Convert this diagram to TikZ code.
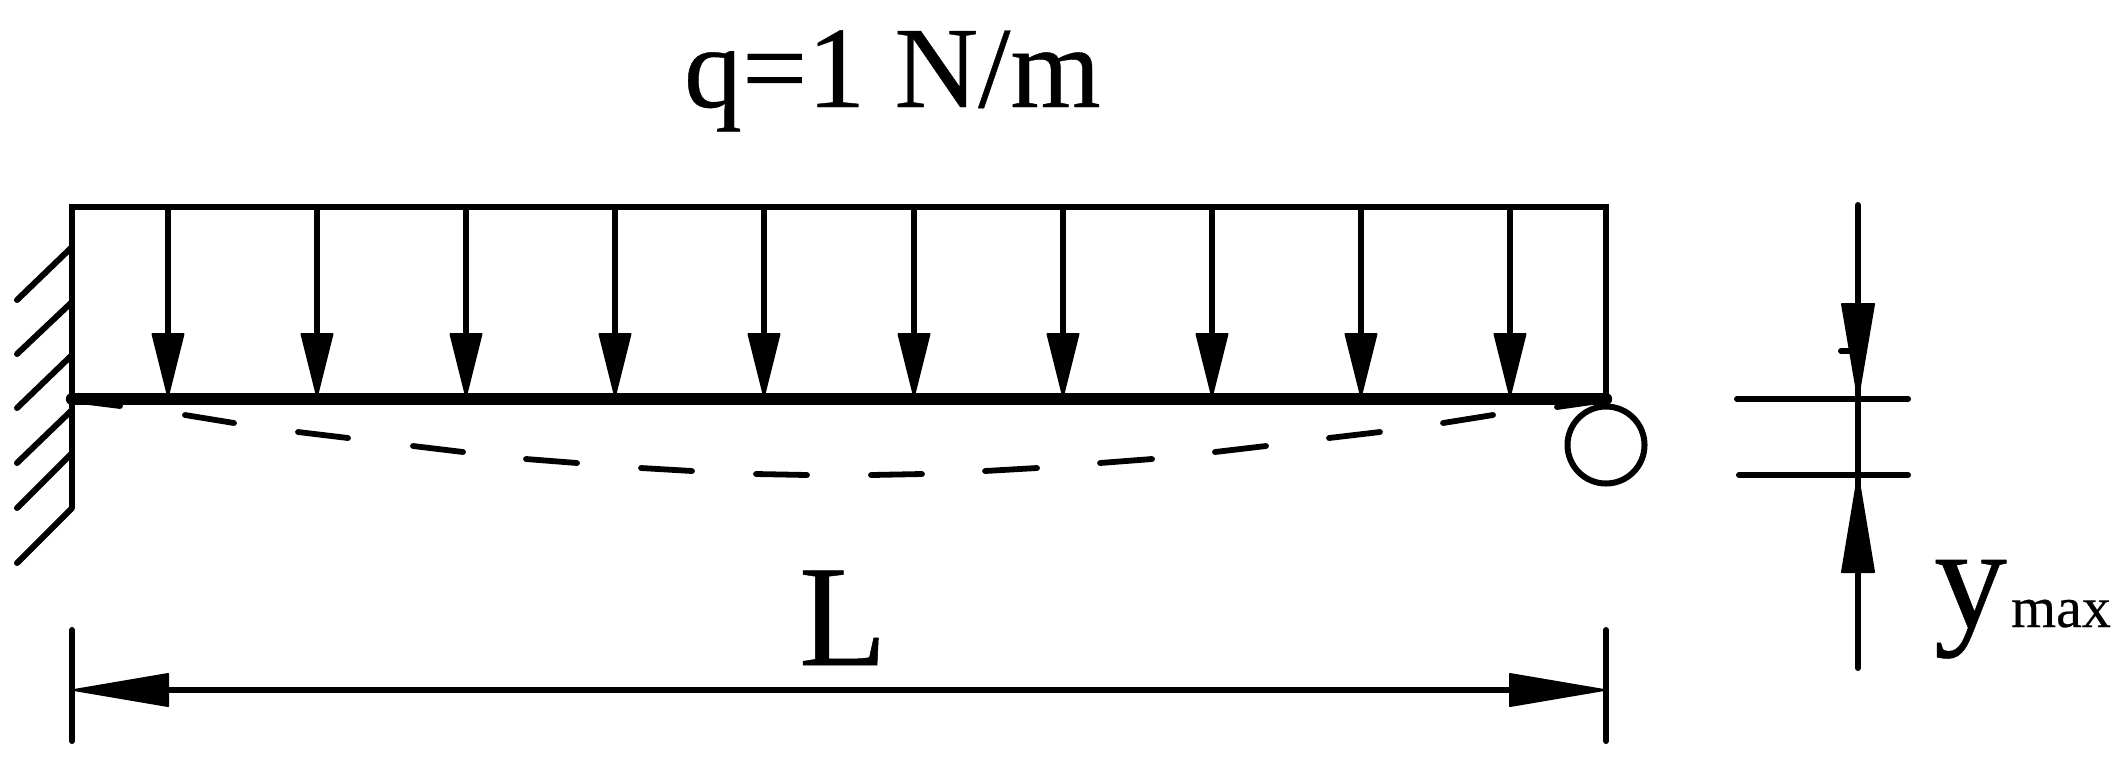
\documentclass[tikz,border=0pt]{standalone}
\usepackage{fontspec}
\setmainfont[FakeBold=0.35]{Liberation Serif}
\tikzset{
  thinline/.style={line width=3pt,line cap=round,black},
  beam/.style={line width=6.2pt,line cap=round,black},
  dashpiece/.style={line width=2.9pt,line cap=round,black},
  headfill/.style={fill=black,draw=black,line width=1pt,line join=round},
  label/.style={inner sep=0pt,outer sep=0pt,text=black}
}
\begin{document}
\begin{tikzpicture}[x=0.5pt,y=-0.5pt]
\useasboundingbox (0,0) rectangle (2123,757);
% load frame
\draw[thinline,line join=miter,line cap=butt] (72,508) -- (72,207) -- (1606,207) -- (1606,399);
% hatching of the wall
\foreach \ya/\yb in {247/300,302/354,355/408,410/463,453/508,508/563}
  \draw[thinline] (72,\ya) -- (17,\yb);
% load arrows
\foreach \x in {168,317,466,615,764,914,1063,1212,1361,1510}{
  \draw[thinline,line cap=butt] (\x,207) -- (\x,340);
  \filldraw[headfill] (\x-15.5,334) -- (\x+15.5,334) -- (\x,396) -- cycle;
}
% beam
\draw[beam] (72,399) -- (1606,399);
% deflection curve
\foreach \a/\b/\c/\d in {72/400/120/406,185/415/234/423,298/432/348/438,413/446/463/452,526/459/577/463,641/468/692/471,756/474/807/475,871/475/922/474,985/471/1037/468,1100/463/1152/459,1215/452/1266/446,1329/438/1380/432,1443/423/1493/415,1557/407/1606/400}
  \draw[dashpiece] (\a,\b) -- (\c,\d);
% roller
\node[draw=black,line width=3pt,circle,minimum size=38.5pt,inner sep=0pt,outer sep=0pt,fill=none] (roller) at (1606,445) {};
% length dimension
\draw[thinline] (72,630) -- (72,741);
\draw[thinline] (1606,630) -- (1606,741);
\draw[line width=3.2pt,black] (160,690) -- (1515,690);
\filldraw[headfill] (74,690) -- (168,674) -- (168,706) -- cycle;
\filldraw[headfill] (1604,690) -- (1510,674) -- (1510,706) -- cycle;
% y max dimension
\draw[thinline] (1737,399) -- (1908,399);
\draw[thinline] (1739,475) -- (1908,475);
\draw[thinline] (1858,205) -- (1858,668);
\filldraw[headfill] (1842,304) -- (1874,304) -- (1858,398) -- cycle;
\filldraw[headfill] (1842,572) -- (1874,572) -- (1858,476) -- cycle;
\draw[line width=3pt,black,line cap=round] (1841,351) -- (1852,351);
% labels
\node[label,anchor=base west] (load) at (684,107) {\fontsize{58}{60}\selectfont q=1 N/m};
\node[label,anchor=base] (len) at (843,665) {\fontsize{72}{74}\selectfont L};
\node[label,anchor=base west] (ysym) at (1934,627) {\fontsize{73}{75}\selectfont y};
\node[label,anchor=base west] (ysub) at (2011,627) {\fontsize{29}{31}\selectfont max};
\end{tikzpicture}
\end{document}
